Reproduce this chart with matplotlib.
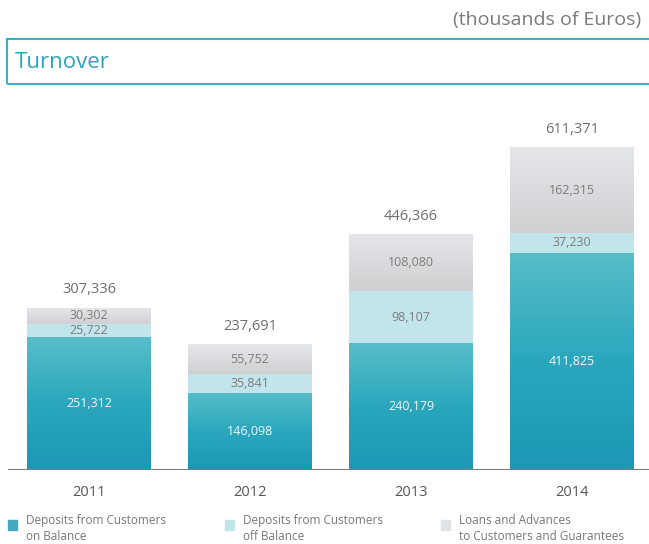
import numpy as np
import matplotlib
matplotlib.use("Agg")
from matplotlib import pyplot as plt
from matplotlib.patches import Rectangle
from matplotlib.colors import LinearSegmentedColormap

plt.rcParams['font.family'] = ['Open Sans', 'DejaVu Sans']

years = ['2011', '2012', '2013', '2014']
on_balance = [251312, 146098, 240179, 411825]
off_balance = [25722, 35841, 98107, 37230]
loans = [30302, 55752, 108080, 162315]
totals = [307336, 237691, 446366, 611371]
series_names = ['Deposits from Customers\non Balance',
                'Deposits from Customers\noff Balance',
                'Loans and Advances\nto Customers and Guarantees']

W, H = 649, 544
fig = plt.figure(figsize=(W / 100, H / 100), dpi=100)


def fx(px):
    return px / W


def fy(py):
    return 1 - py / H


# axes: baseline at y=470, bars centred 161 px apart
ax = fig.add_axes([fx(8), fy(470), fx(641), (470 - 100) / H])
ax.axis('off')

teal = LinearSegmentedColormap.from_list('teal', ['#1d97b4', '#2aa7bd', '#58bec9'])
grey = LinearSegmentedColormap.from_list('grey', ['#d0d0d3', '#e5e6ea'])
grad = np.linspace(0, 1, 256).reshape(-1, 1)

x = np.arange(len(years))
bw = 0.77
b1 = ax.bar(x, on_balance, bw, color='none', edgecolor='none')
b2 = ax.bar(x, off_balance, bw, bottom=on_balance, color='#c2e5ec', edgecolor='none')
bottom3 = np.array(on_balance) + np.array(off_balance)
b3 = ax.bar(x, loans, bw, bottom=bottom3, color='none', edgecolor='none')

for bars, cmap in [(b1, teal), (b3, grey)]:
    for r in bars:
        x0, y0 = r.get_x(), r.get_y()
        im = ax.imshow(grad, cmap=cmap, aspect='auto', origin='lower',
                       extent=[x0, x0 + r.get_width(), y0, y0 + r.get_height()],
                       interpolation='bicubic', zorder=1)
        im.set_clip_path(r)

ax.set_xlim(-0.503, 3.478)
ax.set_ylim(0, 370 / 0.528 * 1000)
ax.axhline(0, color='#7a7a7a', lw=1.5, zorder=3)

for i in range(len(years)):
    ax.text(x[i], on_balance[i] / 2, f'{on_balance[i]:,}', ha='center', va='center',
            color='#eef8fa', fontsize=9)
    ax.text(x[i], on_balance[i] + off_balance[i] / 2, f'{off_balance[i]:,}',
            ha='center', va='center', color='#7c7c7c', fontsize=9)
    ax.text(x[i], bottom3[i] + loans[i] / 2, f'{loans[i]:,}', ha='center', va='center',
            color='#7c7c7c', fontsize=9)
    ax.text(x[i], totals[i] + 34000, f'{totals[i]:,}', ha='center', va='center',
            color='#6e6e6e', fontsize=10.5)
    ax.text(x[i], -43500, years[i], ha='center', va='center', color='#555555',
            fontsize=10.5)

# header
fig.text(fx(641), fy(20), '(thousands of Euros)', ha='right', va='center',
         color='#7a7a7a', fontsize=14)
fig.add_artist(Rectangle((fx(7), fy(84)), fx(660), (84 - 39) / H,
                         transform=fig.transFigure, fill=False,
                         edgecolor='#3aafc5', lw=1.5))
fig.text(fx(15), fy(62), 'Turnover', ha='left', va='center', color='#2aa5bf',
         fontsize=16)

# legend
leg_colors = ['#45a9bd', '#c2e5ec', '#e2e3e6']
leg_x = [8, 225, 441]
for lx, c, name in zip(leg_x, leg_colors, series_names):
    fig.add_artist(Rectangle((fx(lx), fy(530)), fx(9), 10 / H,
                             transform=fig.transFigure, color=c))
    fig.text(fx(lx + 18), fy(514), name, ha='left', va='top', color='#777777',
             fontsize=8.5, linespacing=1.3)

fig.savefig('out.png', dpi=100)
